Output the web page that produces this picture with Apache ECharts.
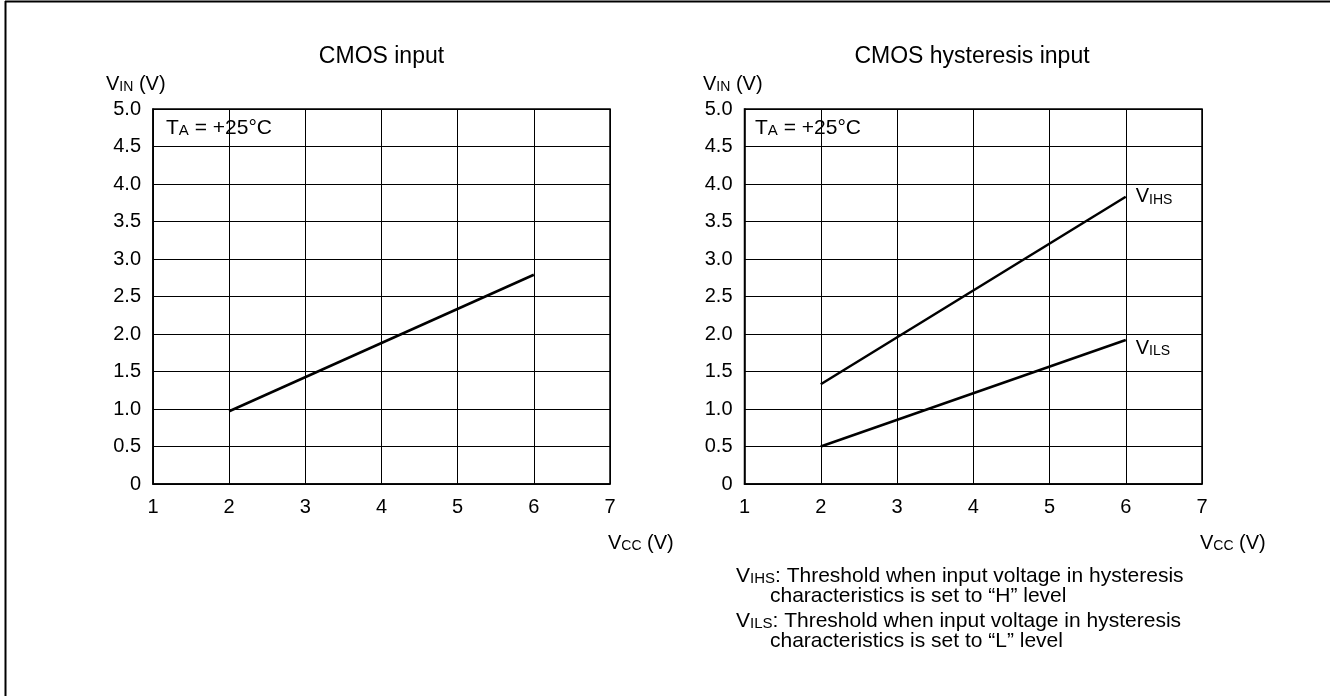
<!DOCTYPE html>
<html>
<head>
<meta charset="utf-8">
<script src="https://cdn.jsdelivr.net/npm/echarts/dist/echarts.min.js"></script>
<style>
html,body{margin:0;padding:0;background:#fff;}
#c{width:1330px;height:696px;}
</style>
</head>
<body>
<div id="c"></div>
<script>
// ---- data ----
const vccMin = 1, vccMax = 7, vccStep = 1;
const vinMin = 0, vinMax = 5, vinStep = 0.5;
const cmosVcc = [2, 6];
const cmosVin = [0.97, 2.79];
const hysVcc = [2, 6];
const vihsVin = [1.33, 3.83];
const vilsVin = [0.50, 1.92];
const titles = ['CMOS input', 'CMOS hysteresis input'];

const FONT = '"Liberation Sans", Arial, Helvetica, sans-serif';
const BLACK = '#000';

function rich(mainSize, subSize) {
  return {
    m: {fontSize: mainSize, lineHeight: mainSize, fontFamily: FONT, color: BLACK, verticalAlign: 'bottom'},
    s: {fontSize: subSize, lineHeight: subSize, fontFamily: FONT, color: BLACK, verticalAlign: 'bottom'}
  };
}

function xAx(gi) {
  return {
    gridIndex: gi, type: 'value', min: vccMin, max: vccMax, interval: vccStep,
    axisLine: {show: true, onZero: false, lineStyle: {color: BLACK, width: 1.5}},
    axisTick: {show: false},
    splitLine: {show: true, lineStyle: {color: BLACK, width: 1}},
    axisLabel: {color: BLACK, fontSize: 20, fontFamily: FONT, margin: 13}
  };
}
function yAx(gi) {
  return {
    gridIndex: gi, type: 'value', min: vinMin, max: vinMax, interval: vinStep,
    axisLine: {show: true, lineStyle: {color: BLACK, width: 1.5}},
    axisTick: {show: false},
    splitLine: {show: true, lineStyle: {color: BLACK, width: 1}},
    axisLabel: {color: BLACK, fontSize: 20, fontFamily: FONT, margin: 12,
      formatter: v => v === 0 ? '0' : v.toFixed(1)}
  };
}
function pts(xs, ys) { return xs.map((x, i) => [x, ys[i]]); }

function txt(x, y, text, r, align) {
  return {
    type: 'text', x: x, y: y, silent: true,
    style: {text: text, rich: r, align: align || 'left', verticalAlign: 'middle', fill: BLACK,
            fontFamily: FONT}
  };
}
function plain(x, y, text, size, align) {
  return {
    type: 'text', x: x, y: y, silent: true,
    style: {text: text, fontSize: size, fontFamily: FONT, fill: BLACK,
            align: align || 'left', verticalAlign: 'middle'}
  };
}

const chart = echarts.init(document.getElementById('c'));
const r20 = rich(20, 14);
const r21 = rich(21, 15);

chart.setOption({
  animation: false,
  backgroundColor: '#fff',
  grid: [
    {left: 153, top: 109, width: 457, height: 375, show: true, borderColor: BLACK, borderWidth: 1.5, containLabel: false},
    {left: 744.5, top: 109, width: 457.5, height: 375, show: true, borderColor: BLACK, borderWidth: 1.5, containLabel: false}
  ],
  xAxis: [xAx(0), xAx(1)],
  yAxis: [yAx(0), yAx(1)],
  series: [
    {type: 'line', xAxisIndex: 0, yAxisIndex: 0, data: pts(cmosVcc, cmosVin),
     symbol: 'none', silent: true, lineStyle: {color: BLACK, width: 2.5}},
    {type: 'line', xAxisIndex: 1, yAxisIndex: 1, data: pts(hysVcc, vihsVin),
     symbol: 'none', silent: true, lineStyle: {color: BLACK, width: 2.5},
     endLabel: {show: true, distance: 10, offset: [0, 0], formatter: '{m|V}{s|IHS}', rich: r20}},
    {type: 'line', xAxisIndex: 1, yAxisIndex: 1, data: pts(hysVcc, vilsVin),
     symbol: 'none', silent: true, lineStyle: {color: BLACK, width: 2.5},
     endLabel: {show: true, distance: 10, offset: [0, 8], formatter: '{m|V}{s|ILS}', rich: r20}}
  ],
  graphic: [
    // page frame (left and top edges)
    {type: 'line', silent: true, shape: {x1: 5, y1: 1.5, x2: 1330, y2: 1.5}, style: {stroke: BLACK, lineWidth: 2}},
    {type: 'line', silent: true, shape: {x1: 5.5, y1: 1, x2: 5.5, y2: 696}, style: {stroke: BLACK, lineWidth: 2}},
    plain(381.5, 57, titles[0], 23, 'center'),
    plain(972, 57, titles[1], 23, 'center'),
    txt(106, 84, '{m|V}{s|IN}{m| (V)}', r20),
    txt(703, 84, '{m|V}{s|IN}{m| (V)}', r20),
    txt(166, 128, '{m|T}{s|A}{m| = +25°C}', r21),
    txt(755, 128, '{m|T}{s|A}{m| = +25°C}', r21),
    txt(608, 543, '{m|V}{s|CC}{m| (V)}', r20),
    txt(1200, 543, '{m|V}{s|CC}{m| (V)}', r20),
    txt(736, 576, '{m|V}{s|IHS}{m|: Threshold when input voltage in hysteresis}', r21),
    plain(770, 596, 'characteristics is set to \u201CH\u201D level', 21),
    txt(736, 621, '{m|V}{s|ILS}{m|: Threshold when input voltage in hysteresis}', r21),
    plain(770, 641, 'characteristics is set to \u201CL\u201D level', 21)
  ]
});
</script>
</body>
</html>
